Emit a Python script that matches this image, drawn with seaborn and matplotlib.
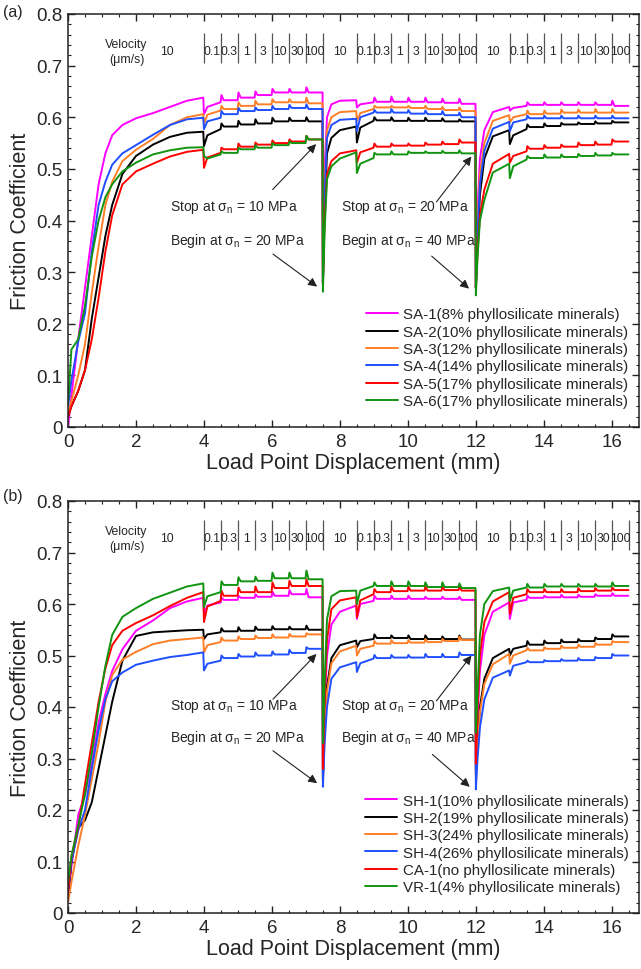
import matplotlib
matplotlib.use('Agg')
import matplotlib.pyplot as plt
import seaborn as sns
import pandas as pd

# ---------------- protocol ----------------
RUNIN_X = [0, 0.1, 0.3, 0.5, 0.7, 0.9, 1.1, 1.3, 1.6, 2.0, 2.5, 3.0, 3.5, 3.98]
STAGE_STARTS = [4.0, 8.5, 13.0]
STAGE_ENDS = [7.5, 12.0, 16.5]
STEP_LEN = 0.5
RISE_DX = [0.05, 0.12, 0.25, 0.5, 0.98]
VEL_LABELS = ['0.1', '0.3', '1', '3', '10', '30', '100']
COLORS = ['#ff00ff', '#000000', '#ff7f27', '#1f4fff', '#ff0000', '#119411']

# ---------------- panel (a) ----------------
A_NAMES = ['SA-1(8% phyllosilicate minerals)', 'SA-2(10% phyllosilicate minerals)',
           'SA-3(12% phyllosilicate minerals)', 'SA-4(14% phyllosilicate minerals)',
           'SA-5(17% phyllosilicate minerals)', 'SA-6(17% phyllosilicate minerals)']
A_RUNIN = [
    [0.00, 0.06, 0.17, 0.27, 0.37, 0.47, 0.53, 0.565, 0.585, 0.598, 0.608, 0.620, 0.632, 0.638],
    [0.02, 0.04, 0.07, 0.11, 0.21, 0.29, 0.37, 0.43, 0.49, 0.525, 0.547, 0.562, 0.570, 0.572],
    [0.025, 0.05, 0.10, 0.16, 0.26, 0.35, 0.43, 0.475, 0.515, 0.537, 0.558, 0.585, 0.600, 0.606],
    [0.04, 0.09, 0.165, 0.22, 0.34, 0.43, 0.475, 0.508, 0.530, 0.546, 0.566, 0.585, 0.596, 0.599],
    [0.02, 0.04, 0.07, 0.11, 0.17, 0.25, 0.34, 0.41, 0.47, 0.495, 0.51, 0.524, 0.533, 0.537],
    [0.045, 0.15, 0.17, 0.235, 0.33, 0.40, 0.445, 0.47, 0.495, 0.512, 0.528, 0.536, 0.541, 0.542],
]
A_DIP = [[0.606, 0.619, 0.613], [0.544, 0.551, 0.548], [0.586, 0.593, 0.590],
         [0.577, 0.573, 0.573], [0.502, 0.512, 0.512], [0.525, 0.492, 0.482]]
A_REC = [[0.620, 0.625, 0.618], [0.565, 0.580, 0.565], [0.605, 0.608, 0.600],
         [0.592, 0.600, 0.590], [0.522, 0.532, 0.525], [0.520, 0.510, 0.505]]
A_LEV1 = [
    [0.629, 0.633, 0.638, 0.643, 0.648, 0.648, 0.648],
    [0.577, 0.582, 0.586, 0.588, 0.592, 0.593, 0.592],
    [0.613, 0.616, 0.622, 0.625, 0.629, 0.629, 0.627],
    [0.599, 0.606, 0.612, 0.614, 0.616, 0.618, 0.616],
    [0.531, 0.538, 0.543, 0.547, 0.550, 0.553, 0.557],
    [0.528, 0.531, 0.538, 0.541, 0.546, 0.550, 0.557],
]
A_PK1 = [
    [0.643, 0.648, 0.650, 0.655, 0.655, 0.658],
    [0.588, 0.593, 0.596, 0.599, 0.599, 0.600],
    [0.622, 0.629, 0.632, 0.635, 0.635, 0.638],
    [0.612, 0.618, 0.619, 0.622, 0.624, 0.625],
    [0.541, 0.549, 0.551, 0.555, 0.557, 0.564],
    [0.534, 0.541, 0.546, 0.550, 0.553, 0.564],
]
A_LEV2 = [
    [0.629, 0.630, 0.630, 0.630, 0.629, 0.628, 0.626],
    [0.593, 0.594, 0.593, 0.593, 0.593, 0.592, 0.592],
    [0.616, 0.619, 0.619, 0.618, 0.616, 0.614, 0.612],
    [0.609, 0.609, 0.609, 0.607, 0.606, 0.604, 0.600],
    [0.541, 0.543, 0.545, 0.545, 0.547, 0.548, 0.551],
    [0.521, 0.528, 0.528, 0.531, 0.531, 0.531, 0.530],
]
A_PK2 = [
    [0.638, 0.640, 0.638, 0.638, 0.636, 0.636],
    [0.600, 0.600, 0.599, 0.599, 0.598, 0.596],
    [0.622, 0.622, 0.622, 0.622, 0.620, 0.619],
    [0.614, 0.616, 0.614, 0.613, 0.612, 0.609],
    [0.549, 0.549, 0.549, 0.551, 0.553, 0.557],
    [0.531, 0.534, 0.534, 0.534, 0.535, 0.536],
]
A_LEV3 = [
    [0.622, 0.624, 0.624, 0.624, 0.624, 0.624, 0.622],
    [0.577, 0.581, 0.583, 0.586, 0.587, 0.588, 0.590],
    [0.606, 0.606, 0.607, 0.609, 0.609, 0.609, 0.609],
    [0.596, 0.598, 0.598, 0.598, 0.598, 0.598, 0.598],
    [0.534, 0.539, 0.541, 0.543, 0.546, 0.547, 0.553],
    [0.518, 0.521, 0.522, 0.523, 0.525, 0.526, 0.528],
]
A_PK3 = [
    [0.629, 0.629, 0.629, 0.629, 0.629, 0.632],
    [0.586, 0.588, 0.589, 0.590, 0.592, 0.593],
    [0.613, 0.613, 0.615, 0.615, 0.616, 0.616],
    [0.603, 0.603, 0.603, 0.603, 0.603, 0.603],
    [0.544, 0.546, 0.547, 0.551, 0.553, 0.557],
    [0.525, 0.528, 0.528, 0.529, 0.531, 0.531],
]
A_BOTTOM = [[0.28, 0.27], [0.28, 0.27], [0.28, 0.27], [0.28, 0.27], [0.28, 0.27], [0.262, 0.255]]
A_RISE2 = [
    [0.50, 0.60, 0.625, 0.632, 0.633],
    [0.42, 0.53, 0.56, 0.575, 0.582],
    [0.47, 0.575, 0.60, 0.61, 0.612],
    [0.45, 0.56, 0.585, 0.595, 0.597],
    [0.40, 0.49, 0.515, 0.530, 0.536],
    [0.38, 0.48, 0.505, 0.520, 0.532],
]
A_RISE3 = [
    [0.42, 0.52, 0.575, 0.61, 0.620],
    [0.36, 0.45, 0.52, 0.563, 0.575],
    [0.40, 0.49, 0.55, 0.593, 0.604],
    [0.38, 0.47, 0.535, 0.578, 0.591],
    [0.34, 0.41, 0.46, 0.51, 0.529],
    [0.33, 0.40, 0.44, 0.493, 0.510],
]

# ---------------- panel (b) ----------------
B_NAMES = ['SH-1(10% phyllosilicate minerals)', 'SH-2(19% phyllosilicate minerals)',
           'SH-3(24% phyllosilicate minerals)', 'SH-4(26% phyllosilicate minerals)',
           'CA-1(no phyllosilicate minerals)', 'VR-1(4% phyllosilicate minerals)']
B_RUNIN = [
    [0.03, 0.09, 0.19, 0.23, 0.29, 0.37, 0.425, 0.47, 0.512, 0.548, 0.568, 0.592, 0.605, 0.612],
    [0.03, 0.10, 0.165, 0.18, 0.215, 0.28, 0.345, 0.41, 0.49, 0.538, 0.545, 0.547, 0.549, 0.550],
    [0.02, 0.06, 0.13, 0.19, 0.26, 0.33, 0.41, 0.462, 0.492, 0.507, 0.522, 0.529, 0.532, 0.535],
    [0.04, 0.10, 0.16, 0.20, 0.28, 0.355, 0.415, 0.45, 0.467, 0.482, 0.49, 0.497, 0.501, 0.506],
    [0.04, 0.11, 0.165, 0.25, 0.33, 0.41, 0.475, 0.52, 0.548, 0.563, 0.578, 0.596, 0.612, 0.623],
    [0.06, 0.11, 0.17, 0.23, 0.31, 0.40, 0.48, 0.54, 0.575, 0.592, 0.61, 0.622, 0.634, 0.640],
]
B_DIP = [[0.581, 0.571, 0.571], [0.532, 0.516, 0.500], [0.506, 0.500, 0.484],
         [0.471, 0.468, 0.461], [0.565, 0.574, 0.581], [0.594, 0.600, 0.606]]
B_REC = [[0.597, 0.600, 0.603], [0.541, 0.528, 0.513], [0.520, 0.513, 0.500],
         [0.484, 0.485, 0.480], [0.595, 0.607, 0.612], [0.615, 0.626, 0.626]]
B_LEV1 = [
    [0.603, 0.608, 0.612, 0.614, 0.616, 0.619, 0.613],
    [0.545, 0.547, 0.548, 0.550, 0.551, 0.551, 0.550],
    [0.526, 0.529, 0.532, 0.534, 0.535, 0.537, 0.541],
    [0.490, 0.495, 0.498, 0.500, 0.502, 0.505, 0.513],
    [0.606, 0.616, 0.623, 0.623, 0.631, 0.635, 0.635],
    [0.623, 0.637, 0.644, 0.645, 0.650, 0.650, 0.648],
]
B_PK1 = [
    [0.613, 0.616, 0.619, 0.624, 0.627, 0.629],
    [0.553, 0.555, 0.556, 0.557, 0.556, 0.558],
    [0.535, 0.537, 0.539, 0.541, 0.542, 0.543],
    [0.500, 0.503, 0.506, 0.508, 0.511, 0.516],
    [0.626, 0.632, 0.634, 0.642, 0.645, 0.648],
    [0.644, 0.652, 0.653, 0.661, 0.661, 0.665],
]
B_LEV2 = [
    [0.606, 0.610, 0.610, 0.610, 0.610, 0.610, 0.608],
    [0.532, 0.534, 0.534, 0.532, 0.532, 0.532, 0.531],
    [0.519, 0.523, 0.524, 0.525, 0.526, 0.528, 0.530],
    [0.494, 0.495, 0.496, 0.496, 0.497, 0.497, 0.501],
    [0.619, 0.623, 0.625, 0.626, 0.626, 0.627, 0.626],
    [0.635, 0.635, 0.635, 0.635, 0.633, 0.633, 0.631],
]
B_PK2 = [
    [0.616, 0.616, 0.616, 0.614, 0.614, 0.614],
    [0.541, 0.539, 0.539, 0.539, 0.537, 0.539],
    [0.528, 0.530, 0.530, 0.532, 0.532, 0.537],
    [0.501, 0.501, 0.501, 0.503, 0.503, 0.506],
    [0.629, 0.634, 0.634, 0.634, 0.634, 0.634],
    [0.642, 0.644, 0.644, 0.642, 0.642, 0.640],
]
B_LEV3 = [
    [0.608, 0.612, 0.613, 0.613, 0.614, 0.616, 0.616],
    [0.519, 0.521, 0.524, 0.526, 0.528, 0.532, 0.537],
    [0.510, 0.510, 0.513, 0.515, 0.517, 0.521, 0.526],
    [0.487, 0.487, 0.489, 0.490, 0.491, 0.495, 0.500],
    [0.619, 0.623, 0.623, 0.623, 0.625, 0.626, 0.627],
    [0.632, 0.632, 0.634, 0.634, 0.634, 0.634, 0.635],
]
B_PK3 = [
    [0.616, 0.616, 0.618, 0.618, 0.619, 0.621],
    [0.528, 0.529, 0.531, 0.532, 0.535, 0.541],
    [0.515, 0.516, 0.519, 0.521, 0.524, 0.528],
    [0.490, 0.491, 0.493, 0.495, 0.497, 0.503],
    [0.629, 0.629, 0.629, 0.631, 0.631, 0.632],
    [0.639, 0.639, 0.639, 0.639, 0.639, 0.642],
]
B_BOTTOM = [[0.27, 0.28], [0.26, 0.27], [0.255, 0.265], [0.245, 0.24], [0.28, 0.29], [0.33, 0.35]]
B_RISE2 = [
    [0.40, 0.50, 0.56, 0.585, 0.597],
    [0.36, 0.44, 0.495, 0.520, 0.529],
    [0.35, 0.43, 0.485, 0.508, 0.519],
    [0.33, 0.40, 0.455, 0.477, 0.487],
    [0.42, 0.53, 0.59, 0.607, 0.613],
    [0.45, 0.57, 0.615, 0.625, 0.626],
]
B_RISE3 = [
    [0.38, 0.47, 0.54, 0.585, 0.603],
    [0.33, 0.40, 0.455, 0.495, 0.513],
    [0.32, 0.39, 0.445, 0.483, 0.503],
    [0.30, 0.36, 0.415, 0.457, 0.471],
    [0.40, 0.50, 0.565, 0.605, 0.623],
    [0.43, 0.54, 0.60, 0.625, 0.632],
]

# annotation anchor points (x mm, friction)
A_STOP_TIPS = [(7.30, 0.548), (11.87, 0.524)]
A_BEGIN_TIPS = [(7.33, 0.272), (11.80, 0.268)]
B_STOP_TIPS = [(7.31, 0.503), (11.87, 0.500)]
B_BEGIN_TIPS = [(7.33, 0.252), (11.82, 0.245)]
STOP_TEXT = [r'Stop at σ$_\mathrm{n}$ = 10 MPa', r'Stop at σ$_\mathrm{n}$ = 20 MPa']
BEGIN_TEXT = [r'Begin at σ$_\mathrm{n}$ = 20 MPa', r'Begin at σ$_\mathrm{n}$ = 40 MPa']


def build_curve(runin, rise2, rise3, dip, rec, levels, peaks, bottom):
    xs, ys = list(RUNIN_X), list(runin)
    for k in range(3):
        s = STAGE_STARTS[k]
        if k > 0:
            b = STAGE_ENDS[k - 1]
            xs.append(b); ys.append(bottom[k - 1])
            rise = rise2 if k == 1 else rise3
            for dx, v in zip(RISE_DX, rise):
                xs.append(b + dx); ys.append(v)
        xs += [s, s + 0.1, s + STEP_LEN - 0.01]
        ys += [dip[k], rec[k], levels[k][0]]
        for j in range(1, 7):
            t = s + j * STEP_LEN
            xs += [t + 0.015, t + 0.08, t + STEP_LEN - 0.01]
            ys += [peaks[k][j - 1], levels[k][j], levels[k][j]]
    return xs, ys


def build_frame(names, runin, rise2, rise3, dip, rec, lev, pk, bottom):
    rows = []
    for i, nm in enumerate(names):
        xs, ys = build_curve(runin[i], rise2[i], rise3[i], dip[i], rec[i],
                             [l[i] for l in lev], [p[i] for p in pk], bottom[i])
        for o, (x, y) in enumerate(zip(xs, ys)):
            rows.append({'sample': nm, 'disp': x, 'mu': y, 'order': o})
    return pd.DataFrame(rows)


dfa = build_frame(A_NAMES, A_RUNIN, A_RISE2, A_RISE3, A_DIP, A_REC,
                  [A_LEV1, A_LEV2, A_LEV3], [A_PK1, A_PK2, A_PK3], A_BOTTOM)
dfb = build_frame(B_NAMES, B_RUNIN, B_RISE2, B_RISE3, B_DIP, B_REC,
                  [B_LEV1, B_LEV2, B_LEV3], [B_PK1, B_PK2, B_PK3], B_BOTTOM)

sns.set_theme(style='ticks')
plt.rcParams['font.family'] = ['Liberation Sans', 'DejaVu Sans']
plt.rcParams['mathtext.fontset'] = 'custom'
plt.rcParams['mathtext.rm'] = 'Liberation Sans'
plt.rcParams['mathtext.it'] = 'Liberation Sans:italic'
plt.rcParams['axes.linewidth'] = 1.1

fig = plt.figure(figsize=(6.41, 9.70), dpi=100)
W, H = 641, 970
ax_a = fig.add_axes([68 / W, 1 - 428 / H, (639 - 68) / W, (428 - 15) / H])
ax_b = fig.add_axes([68 / W, 1 - 914 / H, (639 - 68) / W, (914 - 502) / H])


def style_panel(ax, df, names, stop_tips, begin_tips, stop_text_y, begin_text_y):
    sns.lineplot(data=df, x='disp', y='mu', hue='sample', hue_order=names,
                 palette=COLORS, sort=False, estimator=None, units='sample',
                 linewidth=1.4, ax=ax)
    ax.set_xlim(0, 16.8)
    ax.set_ylim(0, 0.8)
    ax.set_xticks([0, 2, 4, 6, 8, 10, 12, 14, 16])
    ax.set_xticks([i * 0.5 for i in range(34)], minor=True)
    ax.set_yticks([0, 0.1, 0.2, 0.3, 0.4, 0.5, 0.6, 0.7, 0.8])
    ax.set_yticklabels(['0', '0.1', '0.2', '0.3', '0.4', '0.5', '0.6', '0.7', '0.8'])
    ax.set_yticks([i * 0.02 for i in range(41)], minor=True)
    ax.tick_params(which='both', direction='in', top=True, right=True,
                   labelsize=13.5, color='#222222')
    ax.tick_params(which='major', length=5, width=1.0, pad=4)
    ax.tick_params(which='minor', length=2.5, width=0.8)
    for sp in ax.spines.values():
        sp.set_color('#222222')
    ax.set_xlabel('Load Point Displacement (mm)', fontsize=15.5, labelpad=2)
    ax.set_ylabel('Friction Coefficient', fontsize=15.5, labelpad=4)

    # velocity protocol
    vx = []
    for s in STAGE_STARTS:
        vx += [s + j * STEP_LEN for j in range(8)]
    ax.vlines(vx, 0.705, 0.763, color='#555555', linewidth=0.9)
    ax.text(1.72, 0.742, 'Velocity', ha='center', va='center', fontsize=8.8)
    ax.text(1.72, 0.712, '(μm/s)', ha='center', va='center', fontsize=8.8)
    for c in [2.9, 8.0, 12.5]:
        ax.text(c, 0.728, '10', ha='center', va='center', fontsize=8.8)
    for s in STAGE_STARTS:
        for j, lab in enumerate(VEL_LABELS):
            ax.text(s + (j + 0.5) * STEP_LEN, 0.728, lab, ha='center', va='center', fontsize=8.8)

    # stop/begin annotations
    for k in range(2):
        x0 = [3.0, 8.04][k]
        ax.text(x0, stop_text_y, STOP_TEXT[k], ha='left', va='center', fontsize=10)
        ax.text(x0, begin_text_y, BEGIN_TEXT[k], ha='left', va='center', fontsize=10)
        tx, ty = stop_tips[k]
        ax.annotate('', xy=(tx, ty), xytext=(tx - [1.28, 1.03][k], ty - 0.088),
                    arrowprops=dict(arrowstyle='-|>', color='#222222', lw=0.8,
                                    mutation_scale=13, shrinkA=0, shrinkB=0))
        bx, by = begin_tips[k]
        ax.annotate('', xy=(bx, by), xytext=(bx - [1.3, 1.1][k], by + 0.063),
                    arrowprops=dict(arrowstyle='-|>', color='#222222', lw=0.8,
                                    mutation_scale=13, shrinkA=0, shrinkB=0))

    h, l = ax.get_legend_handles_labels()
    ax.legend(h, l, loc='lower right', frameon=False, fontsize=10.9,
              handlelength=2.1, handletextpad=0.35, labelspacing=0.22,
              borderaxespad=0.3, bbox_to_anchor=(1.0, 0.02))


style_panel(ax_a, dfa, A_NAMES, A_STOP_TIPS, A_BEGIN_TIPS, 0.427, 0.362)
style_panel(ax_b, dfb, B_NAMES, B_STOP_TIPS, B_BEGIN_TIPS, 0.403, 0.342)

fig.text(3 / W, 1 - 13 / H, '(a)', ha='left', va='center', fontsize=11.5)
fig.text(3 / W, 1 - 497 / H, '(b)', ha='left', va='center', fontsize=11.5)

fig.savefig('out.png', dpi=100)
